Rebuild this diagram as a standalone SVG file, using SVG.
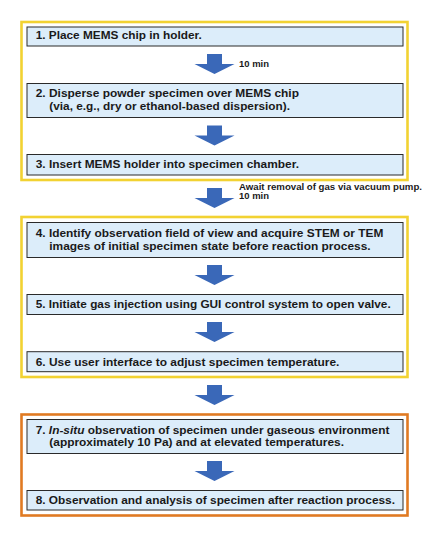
<svg xmlns="http://www.w3.org/2000/svg" width="429" height="536" viewBox="0 0 429 536">
<defs>
<style>
.frame-y{fill:none;stroke:#f2d232;stroke-width:2.6}
.frame-o{fill:none;stroke:#e07a22;stroke-width:2.6}
.box{fill:#dcedfa;stroke:#2a2a2a;stroke-width:1}
.t{font-family:"Liberation Sans",Arial,sans-serif;font-size:10.4px;font-weight:bold;fill:#1a1a1a}
.s{font-family:"Liberation Sans",Arial,sans-serif;font-size:8.2px;font-weight:bold;fill:#1a1a1a}
.arr{fill:#3a68b8}
</style>
<path id="arrow" d="M-7.5,0 H7.5 V10 H20 L0,20 L-20,10 H-7.5 Z"/>
</defs>
<rect width="429" height="536" fill="#ffffff"/>
<rect class="frame-y" x="21.5" y="22" width="386" height="158"/>
<rect class="frame-y" x="21.5" y="217" width="386" height="160"/>
<rect class="frame-o" x="21.5" y="414.5" width="386" height="101"/>
<g id="connectors">
<use href="#arrow" class="arr" x="214.5" y="54"/>
<use href="#arrow" class="arr" x="214.5" y="125.5"/>
<use href="#arrow" class="arr" x="214.5" y="188"/>
<use href="#arrow" class="arr" x="214.5" y="265"/>
<use href="#arrow" class="arr" x="214.5" y="322"/>
<use href="#arrow" class="arr" x="214.5" y="385"/>
<use href="#arrow" class="arr" x="214.5" y="461"/>
<text class="s" x="239" y="66.8" textLength="30" lengthAdjust="spacingAndGlyphs">10 min</text>
<text class="s" x="239" y="190.3" textLength="183" lengthAdjust="spacingAndGlyphs">Await removal of gas via vacuum pump.</text>
<text class="s" x="239" y="198.8" textLength="30" lengthAdjust="spacingAndGlyphs">10 min</text>
</g>
<g id="step1">
<rect class="box" x="27" y="27" width="376" height="19"/>
<text class="t" x="35.7" y="39" textLength="166" lengthAdjust="spacingAndGlyphs">1. Place MEMS chip in holder.</text>
</g>
<g id="step2">
<rect class="box" x="27" y="83.5" width="376" height="34"/>
<text class="t" x="35.7" y="97.3" textLength="263.3" lengthAdjust="spacingAndGlyphs">2. Disperse powder specimen over MEMS chip</text>
<text class="t" x="49.3" y="110" textLength="240.7" lengthAdjust="spacingAndGlyphs">(via, e.g., dry or ethanol-based dispersion).</text>
</g>
<g id="step3">
<rect class="box" x="27" y="154.5" width="376" height="20.5"/>
<text class="t" x="35.7" y="167.7" textLength="263.3" lengthAdjust="spacingAndGlyphs">3. Insert MEMS holder into specimen chamber.</text>
</g>
<g id="step4">
<rect class="box" x="27" y="222.5" width="376" height="35"/>
<text class="t" x="35.7" y="237.3" textLength="347.7" lengthAdjust="spacingAndGlyphs">4. Identify observation field of view and acquire STEM or TEM</text>
<text class="t" x="49.3" y="250" textLength="321.3" lengthAdjust="spacingAndGlyphs">images of initial specimen state before reaction process.</text>
</g>
<g id="step5">
<rect class="box" x="27" y="294.5" width="376" height="20"/>
<text class="t" x="35.7" y="308.3" textLength="355" lengthAdjust="spacingAndGlyphs">5. Initiate gas injection using GUI control system to open valve.</text>
</g>
<g id="step6">
<rect class="box" x="27" y="351.7" width="376" height="20"/>
<text class="t" x="35.7" y="365.7" textLength="303.7" lengthAdjust="spacingAndGlyphs">6. Use user interface to adjust specimen temperature.</text>
</g>
<g id="step7">
<rect class="box" x="27" y="419.5" width="376" height="34"/>
<text class="t" x="35.7" y="434" textLength="353.7" lengthAdjust="spacingAndGlyphs">7. <tspan font-style="italic">In-situ</tspan> observation of specimen under gaseous environment</text>
<text class="t" x="49.3" y="446.3" textLength="294.7" lengthAdjust="spacingAndGlyphs">(approximately 10 Pa) and at elevated temperatures.</text>
</g>
<g id="step8">
<rect class="box" x="27" y="490.5" width="376" height="19.5"/>
<text class="t" x="35.7" y="504" textLength="359.3" lengthAdjust="spacingAndGlyphs">8. Observation and analysis of specimen after reaction process.</text>
</g>
</svg>
